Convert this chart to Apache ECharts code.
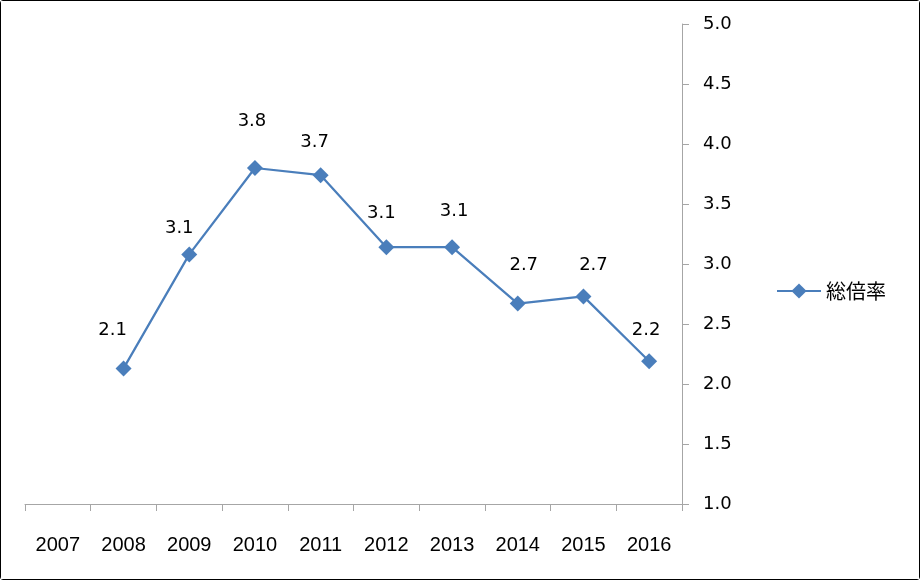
<!DOCTYPE html>
<html><head><meta charset="utf-8">
<script src="https://cdn.jsdelivr.net/npm/echarts@6/dist/echarts.min.js"></script>
<style>
html,body{margin:0;padding:0;background:#fff;}
#c{position:absolute;left:0;top:0;width:918px;height:578px;border:1px solid #000;border-radius:3px;}
</style></head>
<body><div id="c"></div>
<script>
const categories = ['2007','2008','2009','2010','2011','2012','2013','2014','2015','2016'];
const seriesName = '総倍率';
const values = [null, 2.13, 3.08, 3.80, 3.74, 3.14, 3.14, 2.67, 2.73, 2.19];
const yTicks = {min: 1.0, max: 5.0, interval: 0.5};
// label placement (styling only): offset of each value label from its point
const labelOffsets = [[0,0], [-11,-38], [-10,-26], [-3,-47], [-6,-33], [-5,-34], [2,-36], [6,-38], [10,-31], [-3,-31]];

const seriesData = values.map((v, i) => v == null ? null : {value: v, label: {offset: labelOffsets[i]}});

const chart = echarts.init(document.getElementById('c'));
chart.setOption({
  animation: false,
  backgroundColor: '#fff',
  grid: {left: 24, right: 237, top: 23, bottom: 75, containLabel: false},
  legend: {
    data: [seriesName], left: 770, top: 275, orient: 'vertical',
    itemWidth: 44, itemHeight: 19, itemGap: 10,
    textStyle: {fontFamily: 'Noto Sans CJK JP', fontSize: 20, color: '#000'}
  },
  xAxis: {
    type: 'category', data: categories, boundaryGap: true,
    axisLine: {lineStyle: {color: '#a6a6a6', width: 1}},
    axisTick: {show: true, length: 7, lineStyle: {color: '#a6a6a6'}},
    axisLabel: {fontFamily: 'Liberation Sans', fontSize: 20, color: '#000', margin: 31}
  },
  yAxis: {
    type: 'value', position: 'right', min: yTicks.min, max: yTicks.max, interval: yTicks.interval,
    splitLine: {show: false},
    axisLine: {show: true, lineStyle: {color: '#a6a6a6', width: 1}},
    axisTick: {show: true, length: 7, lineStyle: {color: '#a6a6a6'}},
    axisLabel: {fontFamily: 'DejaVu Sans', fontSize: 18, color: '#000', margin: 21,
      formatter: v => v.toFixed(1)}
  },
  series: [{
    name: seriesName, type: 'line', data: seriesData,
    symbol: 'diamond', symbolSize: 16,
    itemStyle: {color: '#4a7ebb'},
    lineStyle: {color: '#4a7ebb', width: 2.25},
    label: {show: true, position: 'inside', fontFamily: 'DejaVu Sans', fontSize: 18, color: '#000',
      formatter: p => p.value.toFixed(1)}
  }]
});
</script></body></html>
